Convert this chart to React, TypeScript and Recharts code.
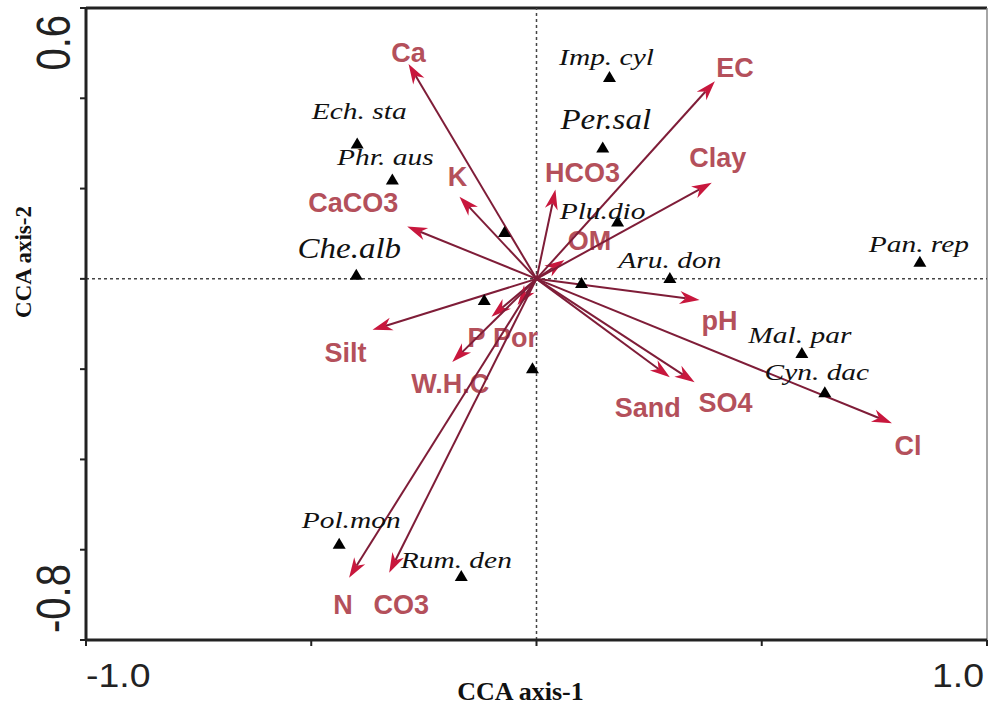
import React from 'react';
import { ScatterChart, Scatter, XAxis, YAxis, ReferenceLine } from 'recharts';

// ---- data (CCA scores) ----
const envNames = ['Ca', 'K', 'CaCO3', 'HCO3', 'OM', 'EC', 'Clay', 'pH', 'Cl', 'SO4', 'Sand', 'Silt', 'P', 'Por', 'W.H.C', 'N', 'CO3'];
const envAxis1 = [-0.284, -0.171, -0.287, 0.042, 0.062, 0.396, 0.389, 0.362, 0.789, 0.351, 0.296, -0.364, -0.1, -0.042, -0.187, -0.416, -0.327];
const envAxis2 = [0.476, 0.182, 0.116, 0.198, 0.042, 0.438, 0.213, -0.047, -0.32, -0.229, -0.218, -0.113, -0.084, -0.058, -0.184, -0.662, -0.651];

const speciesNames = ['Imp. cyl', 'Per.sal', 'Ech. sta', 'Phr. aus', 'Che.alb', 'Plu.dio', 'Aru. don', 'Pan. rep', 'Mal. par', 'Cyn. dac', 'Pol.mon', 'Rum. den', '', '', '', ''];
const speciesAxis1 = [0.162, 0.147, -0.398, -0.32, -0.4, 0.18, 0.296, 0.851, 0.589, 0.64, -0.438, -0.167, -0.071, -0.116, -0.009, 0.1];
const speciesAxis2 = [0.447, 0.291, 0.3, 0.22, 0.009, 0.127, 0.002, 0.038, -0.164, -0.251, -0.587, -0.658, 0.104, -0.047, -0.198, -0.009];

const xTicks = [-1, -0.5, 0, 0.5, 1];
const yTicks = [-0.8, -0.6, -0.4, -0.2, 0, 0.2, 0.4, 0.6];
const xTickLabels: Record<string, string> = { '-1': '-1.0', '1': '1.0' };
const yTickLabels: Record<string, string> = { '0.6': '0.6', '-0.8': '-0.8' };
const xTitle = 'CCA axis-1';
const yTitle = 'CCA axis-2';

// ---- layout (label offsets in px, relative to the mark) ----
const envLabelOffset: Record<string, [number, number]> = {
  Ca: [0, -2], K: [-2, -11], CaCO3: [-54, -14], HCO3: [27, -7], OM: [25, -10], EC: [20, -4],
  Clay: [6, -16], pH: [20, 30], Cl: [16, 32], SO4: [31, 30], Sand: [-22, 40], Silt: [-27, 32],
  P: [-15, 30], Por: [-2, 42], 'W.H.C': [-2, 31], N: [-6, 36], CO3: [12, 41],
};
const speciesLabelOffset: Record<string, [number, number]> = {
  'Imp. cyl': [-3, -12], 'Per.sal': [3, -18], 'Ech. sta': [2, -24], 'Phr. aus': [-7, -15],
  'Che.alb': [-7, -17], 'Plu.dio': [-15, -3], 'Aru. don': [0, -10], 'Pan. rep': [-1, -10],
  'Mal. par': [-2, -10], 'Cyn. dac': [-8, -12], 'Pol.mon': [12, -16], 'Rum. den': [-5, -8],
};
const bigSpecies = ['Per.sal', 'Che.alb'];

const SANS = '"Liberation Sans", Arial, sans-serif';
const SERIF = '"Liberation Serif", "Times New Roman", serif';

const speciesData = speciesNames.map((n, i) => ({ x: speciesAxis1[i], y: speciesAxis2[i], name: n }));

function ArrowShape(props: any) {
  const { x1, y1, x2, y2, envName } = props;
  if ([x1, y1, x2, y2].some((v) => typeof v !== 'number' || isNaN(v))) return <g />;
  const ang = Math.atan2(y2 - y1, x2 - x1);
  const c = Math.cos(ang), s = Math.sin(ang);
  const L = 20, Wd = 6.5, notch = 14;
  const bx = x2 - L * c, by = y2 - L * s;
  const nx = x2 - notch * c, ny = y2 - notch * s;
  const px = -s, py = c;
  const pts = `${x2},${y2} ${bx + px * Wd},${by + py * Wd} ${nx},${ny} ${bx - px * Wd},${by - py * Wd}`;
  const off = envLabelOffset[envName] || [0, 0];
  return (
    <g>
      <line x1={x1} y1={y1} x2={nx} y2={ny} stroke="#7f1d38" strokeWidth={2} />
      <polygon points={pts} fill="#c8173d" />
      <text x={x2 + off[0]} y={y2 + off[1]} textAnchor="middle" fontFamily={SANS} fontWeight="bold" fontSize={27} fill="#b4505b">
        {envName}
      </text>
    </g>
  );
}

function SpeciesShape(props: any) {
  const { cx, cy, payload } = props;
  if (typeof cx !== 'number' || typeof cy !== 'number') return <g />;
  const name: string = payload?.name || '';
  const off = speciesLabelOffset[name] || [0, 0];
  const big = bigSpecies.includes(name);
  return (
    <g>
      <polygon points={`${cx},${cy - 6} ${cx - 6.5},${cy + 5} ${cx + 6.5},${cy + 5}`} fill="#000" />
      {name ? (
        <text
          transform={`translate(${cx + off[0]},${cy + off[1]}) scale(${big ? 1.1 : 1.28},1)`}
          x={0}
          y={0}
          textAnchor="middle"
          fontFamily={SERIF}
          fontStyle="italic"
          fontSize={big ? 30 : 23}
          fill="#111"
        >
          {name}
        </text>
      ) : null}
    </g>
  );
}

// plot box inside the svg (svg placed at page 0,0)
const PLOT_BOTTOM = 640;
const PLOT_LEFT = 86;

function XTick(props: any) {
  const { x, payload } = props;
  const lab = xTickLabels[String(payload?.value)];
  if (!lab) return <g />;
  const anchor = payload.value < 0 ? 'start' : 'end';
  return (
    <text transform={`translate(${x},${PLOT_BOTTOM + 47}) scale(1.1,1)`} x={0} y={0} textAnchor={anchor} fontFamily={SANS} fontSize={34} fill="#222">
      {lab}
    </text>
  );
}

function YTick(props: any) {
  const { y, payload } = props;
  const lab = yTickLabels[String(payload?.value)];
  if (!lab) return <g />;
  const top = payload.value > 0;
  const ty = top ? y + 6 : y - 7;
  return (
    <text
      transform={`translate(${PLOT_LEFT - 16},${ty}) scale(1.2,1) rotate(-90)`}
      x={0}
      y={0}
      textAnchor={top ? 'end' : 'start'}
      fontFamily={SANS}
      fontSize={40}
      fill="#222"
    >
      {lab}
    </text>
  );
}

function XTitle(props: any) {
  const vb = props.viewBox || {};
  const cx = (vb.x || 0) + (vb.width || 0) / 2 - 16;
  return (
    <text x={cx} y={PLOT_BOTTOM + 60} textAnchor="middle" fontFamily={SERIF} fontWeight="bold" fontSize={26} fill="#111">
      {xTitle}
    </text>
  );
}

function YTitle() {
  return (
    <text transform={`translate(31,262) rotate(-90)`} x={0} y={0} textAnchor="middle" fontFamily={SERIF} fontWeight="bold" fontSize={23} fill="#111">
      {yTitle}
    </text>
  );
}

export default function App() {
  return (
    <div style={{ position: 'absolute', left: 0, top: 0, width: 988, height: 707, background: '#fff' }}>
      <ScatterChart width={988} height={707} margin={{ top: 8, right: 1, bottom: 37, left: 76 }}>
        <XAxis
          type="number"
          dataKey="x"
          domain={[-1, 1]}
          ticks={xTicks}
          height={30}
          allowDataOverflow
          axisLine={{ stroke: '#222', strokeWidth: 3 }}
          tickLine={{ stroke: '#222', strokeWidth: 2 }}
          tickSize={6}
          tick={<XTick />}
          label={<XTitle />}
        />
        <YAxis
          type="number"
          dataKey="y"
          domain={[-0.8, 0.6]}
          ticks={yTicks}
          width={10}
          allowDataOverflow
          axisLine={{ stroke: '#222', strokeWidth: 3 }}
          tickLine={{ stroke: '#222', strokeWidth: 2 }}
          tickSize={6}
          tick={<YTick />}
          label={<YTitle />}
        />
        <ReferenceLine y={0.6} stroke="#222" strokeWidth={3} />
        <ReferenceLine x={1} stroke="#888" strokeWidth={1.5} />
        <ReferenceLine y={0} stroke="#444" strokeWidth={1.5} strokeDasharray="3 3" />
        <ReferenceLine x={0} stroke="#444" strokeWidth={1.5} strokeDasharray="3 3" />
        <Scatter data={speciesData} isAnimationActive={false} shape={(p: any) => <SpeciesShape {...p} />} />
        {envNames.map((n, i) => (
          <ReferenceLine
            key={n}
            segment={[{ x: 0, y: 0 }, { x: envAxis1[i], y: envAxis2[i] }]}
            stroke="#7f1d38"
            shape={(p: any) => <ArrowShape {...p} envName={n} />}
          />
        ))}
      </ScatterChart>
    </div>
  );
}
